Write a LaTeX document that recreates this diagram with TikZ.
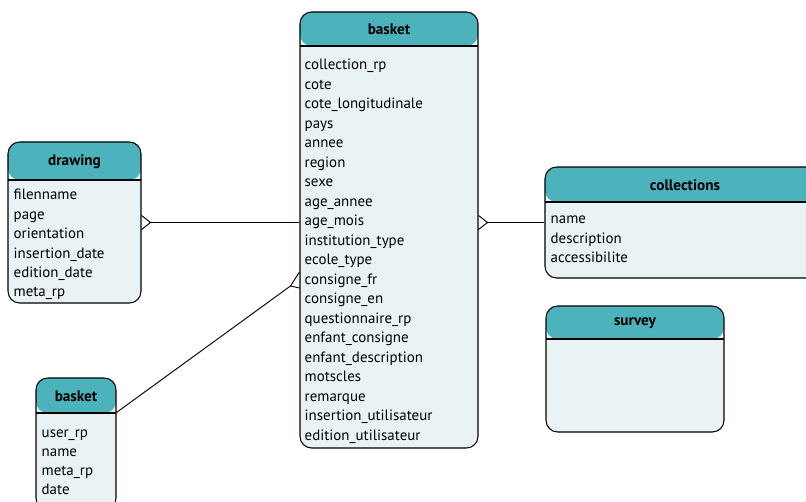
\documentclass[tikz,border=0pt]{standalone}
\usepackage{fontspec}
\setmainfont{PT Sans}
\usetikzlibrary{calc}
\definecolor{headfill}{RGB}{76,178,187}
\definecolor{bodyfill}{RGB}{233,242,245}
\tikzset{
    entity/.style={draw, line width=0.9pt, rounded corners=10pt, fill=bodyfill,
      inner sep=0pt, path picture={%
        \fill[headfill] (path picture bounding box.north west) rectangle
          ([yshift=-#1]path picture bounding box.north east);
        \draw[line width=0.9pt] ([yshift=-#1]path picture bounding box.north west) --
          ([yshift=-#1]path picture bounding box.north east);}},
    tabtitle/.style={inner sep=0pt, font=\bfseries\fontsize{13}{15}\selectfont},
    attr/.style={anchor=base west, inner sep=0pt, font=\fontsize{12.75}{15}\selectfont},
    rel/.style={line width=0.8pt},
  }

\begin{document}
\begin{tikzpicture}[x=0.03cm, y=-0.03cm]
				  %1 unit = 1 px of the sketch, y downwards
				  \path[use as bounding box, clip] (0,0) rectangle (806,502);

				  %tables
				  \node[entity=1.02cm, minimum width=5.34cm, minimum height=13.08cm] (basket) at (389,230) {};
				  \node[entity=1.14cm, minimum width=3.99cm, minimum height=4.83cm] (drawing) at (74.5,222.5) {};
				  \node[entity=1.05cm, minimum width=2.4cm, minimum height=3.96cm] (sbasket) at (76,444) {};
				  \node[entity=1.05cm, minimum width=8.4cm, minimum height=3.33cm] (collections) at (685,222.5) {};
				  \node[entity=0.99cm, minimum width=5.34cm, minimum height=3.78cm] (survey) at (635,369) {};

				  %titles
				  \node[tabtitle] (basket-title) at ($(basket.north)+(0,18)$) {basket};
				  \node[tabtitle] (drawing-title) at ($(drawing.north)+(0,20)$) {drawing};
				  \node[tabtitle] (sbasket-title) at ($(sbasket.north)+(0,18.5)$) {basket};
				  \node[tabtitle] (collections-title) at ($(collections.north)+(0,18.5)$) {collections};
				  \node[tabtitle] (survey-title) at ($(survey.north)+(0,17.5)$) {survey};

				  %attributes
				  \foreach \a [count=\i] in {collection\_rp,cote,cote\_longitudinale,pays,annee,region,sexe,
				      age\_annee,age\_mois,institution\_type,ecole\_type,consigne\_fr,consigne\_en,
				      questionnaire\_rp,enfant\_consigne,enfant\_description,motscles,remarque,
				      insertion\_utilisateur,edition\_utilisateur}
				    \node[attr] (basket-\i) at ($(basket.north west)+(5,39+19.5*\i)$) {\a};
				  \foreach \a [count=\i] in {filenname,page,orientation,insertion\_date,edition\_date,meta\_rp}
				    \node[attr] (drawing-\i) at ($(drawing.north west)+(6,39+19.4*\i)$) {\a};
				  \foreach \a [count=\i] in {user\_rp,name,meta\_rp,date}
				    \node[attr] (sbasket-\i) at ($(sbasket.north west)+(6,41.5+19*\i)$) {\a};
				  \foreach \a [count=\i] in {name,description,accessibilite}
				    \node[attr] (collections-\i) at ($(collections.north west)+(6,38+19.5*\i)$) {\a};

				  %relations, crow's foot on the many side
				  \coordinate (drawing-foot) at ($(drawing.east)+(9,0)$);
				  \draw[rel] (drawing-foot) -- (basket.west |- drawing.east);
				  \draw[rel] ($(drawing.east)+(0,-7)$) -- (drawing-foot) -- ($(drawing.east)+(0,7)$);

				  \coordinate (basket-foot) at ($(basket.east |- collections.west)+(9,0)$);
				  \draw[rel] (collections.west) -- (basket-foot);
				  \draw[rel] ($(basket.east |- collections.west)+(0,-7)$) -- (basket-foot) -- ($(basket.east |- collections.west)+(0,7)$);

				  \coordinate (sbasket-out) at ($(sbasket.north east)+(0,35)$);
				  \coordinate (sbasket-foot) at ($(basket.west)+(-9,56)$);
				  \draw[rel] (sbasket-out) -- (sbasket-foot);
				  \draw[rel] ($(basket.west)+(0,42)$) -- (sbasket-foot) -- ($(basket.west)+(0,58)$);
				  \end{tikzpicture}
\end{document}
